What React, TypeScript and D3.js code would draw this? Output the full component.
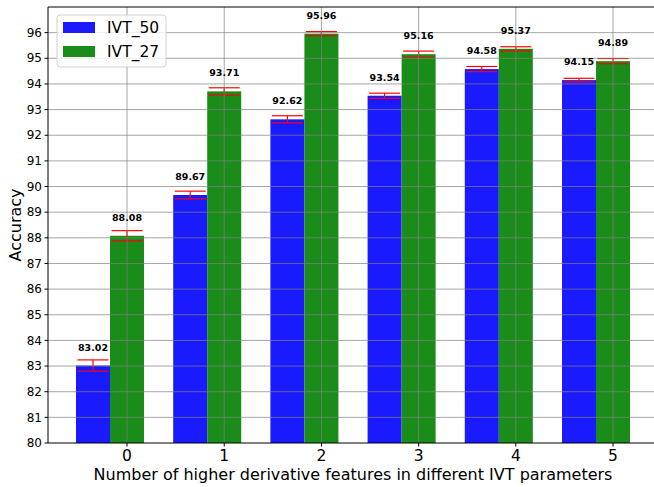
import React, { useEffect, useRef } from "react";
import * as d3 from "d3";

// chart data
const categories = [0, 1, 2, 3, 4, 5];
const ivt50 = [83.02, 89.67, 92.62, 93.54, 94.58, 94.15];
const ivt27 = [88.08, 93.71, 95.96, 95.16, 95.37, 94.89];
const err50 = [0.22, 0.15, 0.14, 0.1, 0.1, 0.07];
const err27 = [0.2, 0.14, 0.08, 0.12, 0.08, 0.1];
const yTicks = [80, 81, 82, 83, 84, 85, 86, 87, 88, 89, 90, 91, 92, 93, 94, 95, 96];
const seriesNames = ["IVT_50", "IVT_27"];

const W = 654;
const H = 487;

const App = () => {
  const svgRef = useRef<SVGSVGElement>(null);

  useEffect(() => {
    const svg = d3.select(svgRef.current);
    svg.selectAll("*").remove();

    const left = 48;
    const top = 7;
    const bottom = 443;
    const barW = 0.35;
    const font = "DejaVu Sans, sans-serif";

    // ----- scales
    const x = d3.scaleLinear().domain([-0.813, 5.46]).range([left, left + 6.273 * 97.2]);
    const y = d3.scaleLinear().domain([80, 97]).range([bottom, top]);

    const colors = ["#1a1aff", "#1a8c1a"];
    const series = [
      { values: ivt50, errs: err50, offset: -barW },
      { values: ivt27, errs: err27, offset: 0 },
    ];

    // ----- bars
    series.forEach((s, si) => {
      svg
        .append("g")
        .selectAll("rect")
        .data(categories)
        .join("rect")
        .attr("x", (c) => x(c + s.offset - barW / 2))
        .attr("width", (c) => x(c + s.offset + barW / 2) - x(c + s.offset - barW / 2))
        .attr("y", (c, i) => y(s.values[i]))
        .attr("height", (c, i) => y(80) - y(s.values[i]))
        .attr("fill", colors[si]);
    });

    // ----- error bars
    series.forEach((s) => {
      const g = svg.append("g").attr("stroke", "#ff0000").attr("stroke-width", 1.2);
      categories.forEach((c, i) => {
        const cx = x(c + s.offset);
        const y0 = y(s.values[i] - s.errs[i]);
        const y1 = y(s.values[i] + s.errs[i]);
        g.append("line").attr("x1", cx).attr("x2", cx).attr("y1", y0).attr("y2", y1);
        [y0, y1].forEach((yy) =>
          g.append("line").attr("x1", cx - 15.5).attr("x2", cx + 15.5).attr("y1", yy).attr("y2", yy)
        );
      });
    });

    // ----- grid (drawn over the bars)
    const grid = svg.append("g").attr("stroke", "#808080").attr("stroke-opacity", 0.7).attr("stroke-width", 1);
    grid
      .selectAll("line.h")
      .data(yTicks.slice(1))
      .join("line")
      .attr("x1", left)
      .attr("x2", W)
      .attr("y1", (d) => y(d))
      .attr("y2", (d) => y(d));
    grid
      .selectAll("line.v")
      .data(categories)
      .join("line")
      .attr("x1", (d) => x(d))
      .attr("x2", (d) => x(d))
      .attr("y1", top)
      .attr("y2", bottom);

    // ----- value labels
    series.forEach((s) => {
      svg
        .append("g")
        .selectAll("text")
        .data(categories)
        .join("text")
        .attr("x", (c) => x(c + s.offset))
        .attr("y", (c, i) => y(s.values[i]) - 15)
        .attr("text-anchor", "middle")
        .attr("font-family", font)
        .attr("font-weight", "bold")
        .attr("font-size", 9.5)
        .text((c, i) => s.values[i].toFixed(2));
    });

    // ----- spines
    svg.append("line").attr("x1", left).attr("x2", left).attr("y1", top).attr("y2", bottom).attr("stroke", "#000");
    svg.append("line").attr("x1", left).attr("x2", W).attr("y1", top).attr("y2", top).attr("stroke", "#000");
    svg.append("line").attr("x1", left).attr("x2", W).attr("y1", bottom).attr("y2", bottom).attr("stroke", "#000");

    // ----- y axis
    const yAxis = svg.append("g");
    yTicks.forEach((t) => {
      yAxis.append("line").attr("x1", left - 3.5).attr("x2", left).attr("y1", y(t)).attr("y2", y(t)).attr("stroke", "#000");
      yAxis
        .append("text")
        .attr("x", left - 6)
        .attr("y", y(t))
        .attr("dy", "0.35em")
        .attr("text-anchor", "end")
        .attr("font-family", font)
        .attr("font-size", 12)
        .text(t);
    });

    // ----- x axis
    const xAxis = svg.append("g");
    categories.forEach((c) => {
      xAxis.append("line").attr("x1", x(c)).attr("x2", x(c)).attr("y1", bottom).attr("y2", bottom + 3.5).attr("stroke", "#000");
      xAxis
        .append("text")
        .attr("x", x(c))
        .attr("y", bottom + 18)
        .attr("text-anchor", "middle")
        .attr("font-family", font)
        .attr("font-size", 15.5)
        .text(c);
    });

    svg
      .append("text")
      .attr("x", 353)
      .attr("y", 480)
      .attr("text-anchor", "middle")
      .attr("font-family", font)
      .attr("font-size", 16)
      .text("Number of higher derivative features in different IVT parameters");

    svg
      .append("text")
      .attr("transform", `translate(21,${(top + bottom) / 2}) rotate(-90)`)
      .attr("text-anchor", "middle")
      .attr("font-family", font)
      .attr("font-size", 16)
      .text("Accuracy");

    // ----- legend
    const legend = svg.append("g").attr("transform", "translate(57,15)");
    legend
      .append("rect")
      .attr("width", 109)
      .attr("height", 52)
      .attr("rx", 3)
      .attr("fill", "#fff")
      .attr("fill-opacity", 0.8)
      .attr("stroke", "#d0d0d0");
    seriesNames.forEach((name, i) => {
      legend
        .append("rect")
        .attr("x", 6)
        .attr("y", 7 + i * 24)
        .attr("width", 32)
        .attr("height", 11)
        .attr("fill", colors[i]);
      legend
        .append("text")
        .attr("x", 50)
        .attr("y", 13 + i * 24)
        .attr("dy", "0.35em")
        .attr("font-family", font)
        .attr("font-size", 15.5)
        .text(name);
    });
  }, []);

  return (
    <svg
      ref={svgRef}
      width={W}
      height={H}
      style={{ position: "absolute", left: 0, top: 0, background: "#fff" }}
    />
  );
};

export default App;
